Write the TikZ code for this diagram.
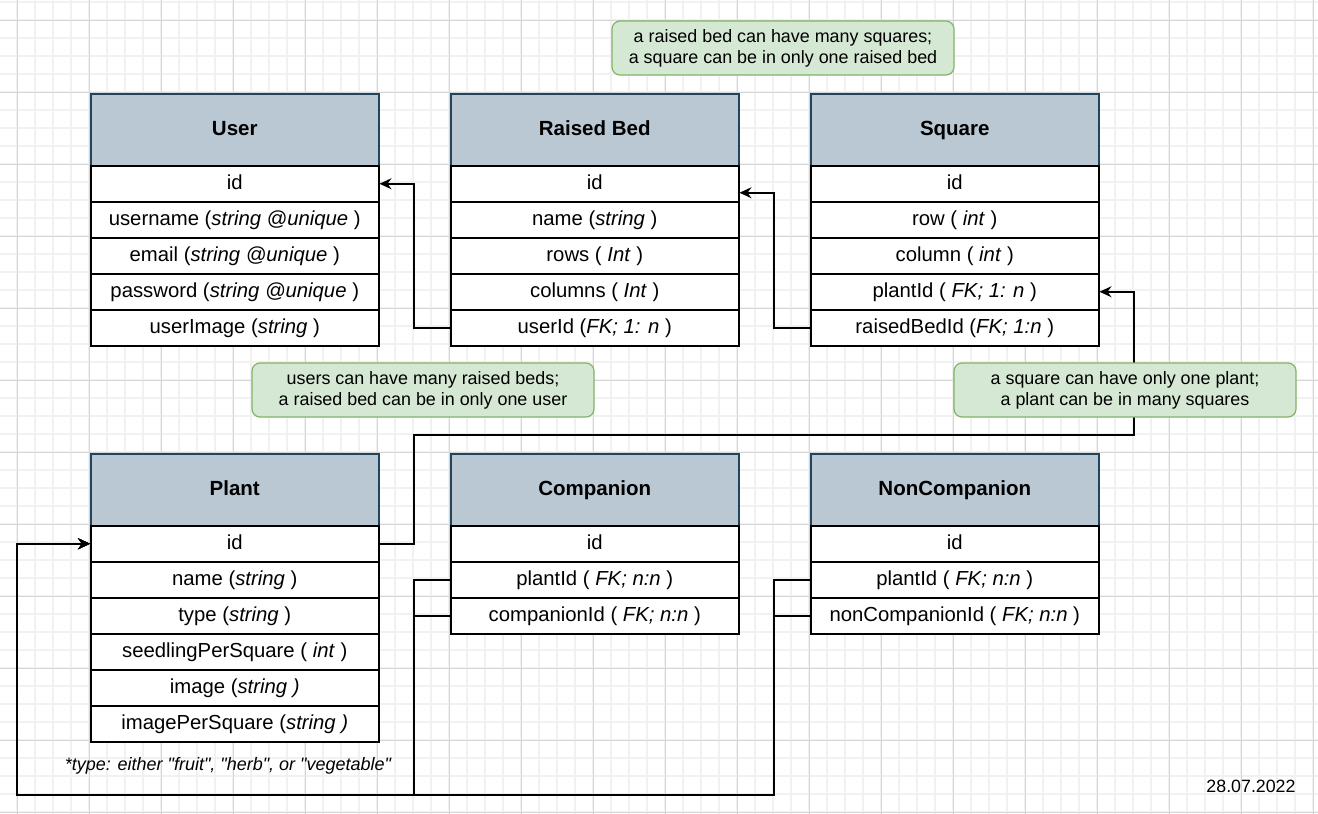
\documentclass[tikz,border=0pt]{standalone}
\usepackage{fontspec}
\setmainfont{Liberation Sans}
\newfontfamily\plainsans{Liberation Sans}
\usetikzlibrary{arrows.meta,calc}
\definecolor{hdrfill}{HTML}{BAC8D3}
\definecolor{hdrline}{HTML}{23445D}
\definecolor{notefill}{HTML}{D5E8D4}
\definecolor{noteline}{HTML}{82B366}
\definecolor{gridminor}{HTML}{F1F1F1}
\definecolor{gridmajor}{HTML}{D6D6D6}
\begin{document}
\begin{tikzpicture}[x=1pt,y=-1pt,
  hdr/.style={draw=hdrline,fill=hdrfill,line width=1.5pt,minimum width=288pt,minimum height=72pt,inner sep=0pt,text height=15pt,text depth=4.5pt,anchor=north west,font=\fontsize{20.5}{24}\selectfont\bfseries},
  rowbox/.style={draw=black,fill=white,line width=1.5pt,minimum width=288pt,minimum height=36pt,inner sep=0pt,text height=15pt,text depth=4.5pt,anchor=north west,font=\fontsize{20.3}{24}\selectfont},
  note/.style={draw=noteline,fill=notefill,line width=1.2pt,rounded corners=8pt,minimum width=342pt,minimum height=54pt,inner sep=0pt,align=center,font=\fontsize{17.9}{21}\selectfont},
  conn/.style={draw=black,line width=1.5pt,-{Stealth[length=12pt,width=11pt,inset=4pt]}},
  link/.style={draw=black,line width=1.5pt}]
\useasboundingbox (0,0) rectangle (1318,814);
\fill[white] (0,0) rectangle (1318,814);
% grid
\foreach \k in {0,...,73} {
  \draw[gridminor,line width=1.2pt] ({-1+18*\k},0) -- ({-1+18*\k},814);
}
\foreach \k in {0,...,45} {
  \draw[gridminor,line width=1.2pt] (0,{2+18*\k}) -- (1318,{2+18*\k});
}
\foreach \k in {0,...,18} {
  \draw[gridmajor,line width=1pt] ({17+72*\k},0) -- ({17+72*\k},814);
}
\foreach \k in {0,...,11} {
  \draw[gridmajor,line width=1pt] (0,{20+72*\k}) -- (1318,{20+72*\k});
}
% ---------- User ----------
\node[hdr] (user-h) at (90,93) {User};
\node[rowbox] (user-id) at (90,165) {id};
\node[rowbox] (user-username) at (90,201) {username (\textit{string @unique} )};
\node[rowbox] (user-email) at (90,237) {email (\textit{string @unique} )};
\node[rowbox] (user-password) at (90,273) {password (\textit{string @unique} )};
\node[rowbox] (user-image) at (90,309) {userImage (\textit{string} )};
% ---------- Raised Bed ----------
\node[hdr] (rb-h) at (450,93) {Raised Bed};
\node[rowbox] (rb-id) at (450,165) {id};
\node[rowbox] (rb-name) at (450,201) {name (\textit{string} )};
\node[rowbox] (rb-rows) at (450,237) {rows ( \textit{Int} )};
\node[rowbox] (rb-columns) at (450,273) {columns ( \textit{Int} )};
\node[rowbox] (rb-userId) at (450,309) {userId (\textit{FK; 1: n} )};
% ---------- Square ----------
\node[hdr] (sq-h) at (810,93) {Square};
\node[rowbox] (sq-id) at (810,165) {id};
\node[rowbox] (sq-row) at (810,201) {row ( \textit{int} )};
\node[rowbox] (sq-column) at (810,237) {column ( \textit{int} )};
\node[rowbox] (sq-plantId) at (810,273) {plantId ( \textit{FK; 1: n} )};
\node[rowbox] (sq-raisedBedId) at (810,309) {raisedBedId (\textit{FK; 1:n} )};
% ---------- Plant ----------
\node[hdr] (pl-h) at (90,453) {Plant};
\node[rowbox] (pl-id) at (90,525) {id};
\node[rowbox] (pl-name) at (90,561) {name (\textit{string} )};
\node[rowbox] (pl-type) at (90,597) {type (\textit{string} )};
\node[rowbox] (pl-seedling) at (90,633) {seedlingPerSquare ( \textit{int} )};
\node[rowbox] (pl-image) at (90,669) {image (\textit{string )}};
\node[rowbox] (pl-imagePS) at (90,705) {imagePerSquare (\textit{string )}};
% ---------- Companion ----------
\node[hdr] (co-h) at (450,453) {Companion};
\node[rowbox] (co-id) at (450,525) {id};
\node[rowbox] (co-plantId) at (450,561) {plantId ( \textit{FK; n:n} )};
\node[rowbox] (co-companionId) at (450,597) {companionId ( \textit{FK; n:n} )};
% ---------- NonCompanion ----------
\node[hdr] (nc-h) at (810,453) {NonCompanion};
\node[rowbox] (nc-id) at (810,525) {id};
\node[rowbox] (nc-plantId) at (810,561) {plantId ( \textit{FK; n:n} )};
\node[rowbox] (nc-nonCompanionId) at (810,597) {nonCompanionId ( \textit{FK; n:n} )};
% ---------- connectors ----------
\draw[conn] (rb-userId.west) -- ++(-36,0) |- (user-id.east);
\draw[conn] (sq-raisedBedId.west) -- ++(-36,0) |- ([yshift=-9pt]rb-id.east);
\coordinate (plBend) at (414,435);
\coordinate (sqBend) at (1134,435);
\draw[conn] (pl-id.east) -| (plBend) -- (sqBend) |- (sq-plantId.east);
\coordinate (busA) at (414,795);
\coordinate (busB) at (774,795);
\coordinate (loopBL) at (17,795);
\draw[conn] (co-plantId.west) -| (busA) -- (loopBL) |- (pl-id.west);
\draw[conn] (co-companionId.west) -| (busA) -- (loopBL) |- (pl-id.west);
\draw[conn] (nc-plantId.west) -| (busB) -- (loopBL) |- (pl-id.west);
\draw[conn] (nc-nonCompanionId.west) -| (busB) -- (loopBL) |- (pl-id.west);
% ---------- notes ----------
\node[note] (note-rb) at (783,48) {a raised bed can have many squares;\\a square can be in only one raised bed};
\node[note] (note-user) at (423,390) {users can have many raised beds;\\a raised bed can be in only one user};
\node[note] (note-sq) at (1125,390) {a square can have only one plant;\\a plant can be in many squares};
% ---------- free texts ----------
\node[font=\plainsans\fontsize{18}{21}\selectfont\itshape] (footnote) at (228,766) {*type: either "fruit", "herb", or "vegetable"};
\node[font=\fontsize{17.8}{21}\selectfont] (date) at (1251,786) {28.07.2022};
\end{tikzpicture}
\end{document}
